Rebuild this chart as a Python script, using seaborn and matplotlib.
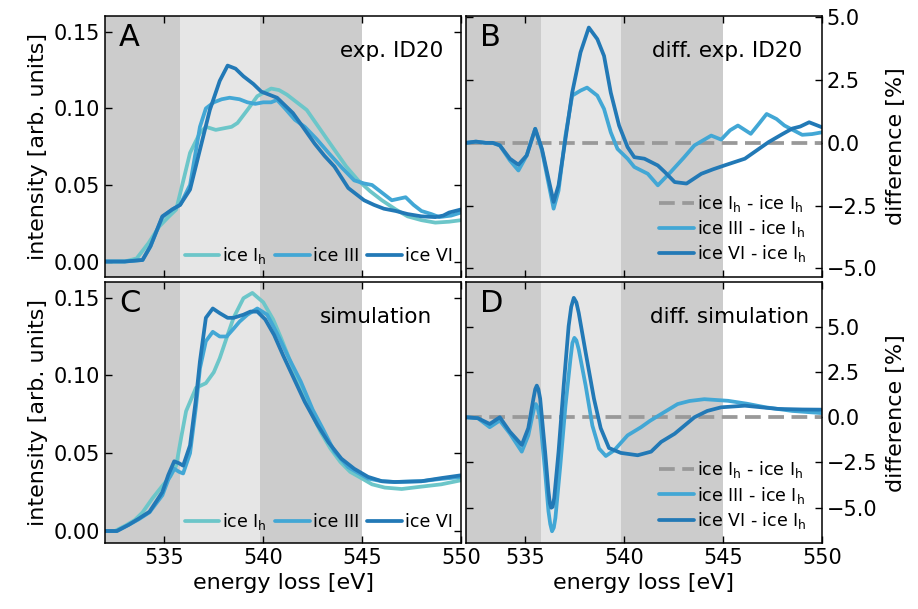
import numpy as np
import pandas as pd
import matplotlib
matplotlib.use("Agg")
import matplotlib.pyplot as plt
import seaborn as sns

sns.set_style("ticks")
plt.rcParams['font.family'] = ['DejaVu Sans']
for k in ['text.color', 'axes.labelcolor', 'xtick.color', 'ytick.color', 'axes.edgecolor']:
    plt.rcParams[k] = 'black'

# ---------------- data ----------------
# Panel A: experiment ID20
expA_Ih_x = [532.0, 533.0, 533.6, 534.2, 534.75, 535.2, 535.6, 536.0, 536.3, 536.8, 537.1, 537.6, 538.0, 538.4, 538.7, 539.2, 539.7, 540.4, 540.8, 541.2, 541.7, 542.2, 542.9, 543.6, 544.2, 544.8, 545.4, 546.0, 546.7, 547.3, 548.0, 548.7, 549.4, 550.0]
expA_Ih_y = [0.0, 0.0, 0.002, 0.012, 0.023, 0.029, 0.034, 0.055, 0.071, 0.084, 0.088, 0.086, 0.087, 0.088, 0.0905, 0.099, 0.108, 0.113, 0.112, 0.109, 0.104, 0.099, 0.086, 0.073, 0.062, 0.053, 0.046, 0.040, 0.034, 0.0295, 0.027, 0.0254, 0.026, 0.027]
expA_III_x = [532.0, 533.0, 533.9, 534.3, 534.9, 535.4, 535.8, 536.3, 536.8, 537.1, 537.5, 537.9, 538.3, 538.8, 539.2, 539.6, 540.0, 540.4, 540.7, 541.1, 541.6, 542.1, 542.7, 543.3, 544.0, 544.6, 545.1, 545.5, 546.0, 546.5, 547.2, 547.6, 548.0, 548.5, 548.9, 549.5, 550.0]
expA_III_y = [0.0, 0.0, 0.001, 0.010, 0.029, 0.034, 0.037, 0.050, 0.088, 0.100, 0.104, 0.106, 0.107, 0.106, 0.104, 0.103, 0.104, 0.104, 0.1056, 0.100, 0.0926, 0.088, 0.080, 0.071, 0.061, 0.053, 0.051, 0.050, 0.045, 0.040, 0.042, 0.037, 0.033, 0.031, 0.029, 0.030, 0.032]
expA_VI_x = [532.0, 533.0, 533.9, 534.3, 534.9, 535.4, 535.8, 536.3, 536.8, 537.3, 537.8, 538.2, 538.6, 539.0, 539.5, 539.9, 540.7, 541.5, 542.0, 542.6, 543.1, 543.6, 544.3, 545.1, 545.6, 546.1, 546.7, 547.3, 548.0, 548.7, 549.1, 549.4, 550.0]
expA_VI_y = [0.0, 0.0, 0.001, 0.010, 0.0295, 0.034, 0.037, 0.047, 0.073, 0.099, 0.118, 0.128, 0.126, 0.121, 0.116, 0.111, 0.107, 0.097, 0.088, 0.077, 0.069, 0.062, 0.048, 0.040, 0.037, 0.0345, 0.033, 0.031, 0.0295, 0.029, 0.030, 0.032, 0.034]

# Panel B: difference experiment [%]
diffB_III_x = [532.0, 532.5, 533.0, 533.35, 533.71, 534.22, 534.65, 535.07, 535.5, 535.84, 536.17, 536.43, 536.68, 537.03, 537.37, 537.79, 538.12, 538.64, 538.98, 539.32, 539.66, 540.17, 540.51, 541.19, 541.7, 542.35, 543.0, 543.55, 544.4, 544.9, 545.35, 545.75, 546.4, 546.8, 547.2, 547.7, 548.1, 549.0, 549.5, 550.0]
diffB_III_y = [0.0, 0.05, 0.0, 0.0, -0.1, -0.7, -1.1, -0.5, 0.56, -0.3, -1.6, -2.62, -1.9, 0.29, 1.88, 2.08, 2.2, 1.88, 1.35, 0.42, -0.24, -0.63, -0.96, -1.23, -1.69, -1.16, -0.6, -0.1, 0.29, 0.13, 0.5, 0.69, 0.36, 0.75, 1.15, 0.95, 0.69, 0.32, 0.35, 0.42]
diffB_VI_x = [532.0, 532.5, 533.0, 533.35, 533.71, 534.22, 534.65, 535.07, 535.5, 535.84, 536.17, 536.43, 536.68, 537.03, 537.37, 537.79, 538.21, 538.64, 538.98, 539.32, 539.74, 540.17, 540.51, 541.02, 541.7, 542.05, 542.55, 543.15, 543.9, 544.5, 545.1, 546.1, 546.7, 547.3, 548.0, 548.5, 548.9, 549.35, 550.0]
diffB_VI_y = [0.0, 0.05, 0.0, 0.0, -0.1, -0.63, -0.87, -0.5, 0.56, -0.24, -1.43, -2.35, -1.69, 0.16, 2.0, 3.6, 4.59, 4.13, 3.46, 2.0, 0.69, -0.17, -0.57, -0.63, -0.9, -1.16, -1.56, -1.62, -1.23, -1.05, -0.89, -0.63, -0.3, 0.03, 0.35, 0.57, 0.65, 0.82, 0.62]

# Panel C: simulation
simC_Ih_x = [532.0, 532.5, 533.05, 533.5, 533.9, 534.4, 534.9, 535.3, 535.6, 535.85, 536.1, 536.6, 537.1, 537.5, 537.8, 538.2, 538.5, 539.0, 539.45, 540.0, 540.5, 540.9, 541.4, 541.9, 542.4, 542.9, 543.4, 543.9, 544.4, 545.0, 545.5, 546.15, 547.0, 547.85, 549.0, 550.0]
simC_Ih_y = [0.0, 0.0, 0.0036, 0.007, 0.012, 0.021, 0.029, 0.035, 0.042, 0.060, 0.077, 0.092, 0.095, 0.102, 0.111, 0.126, 0.137, 0.1496, 0.153, 0.147, 0.136, 0.124, 0.108, 0.0916, 0.077, 0.0637, 0.053, 0.0444, 0.038, 0.0337, 0.030, 0.0279, 0.027, 0.0283, 0.030, 0.0326]
simC_III_x = [532.0, 532.6, 533.2, 533.7, 534.25, 534.9, 535.2, 535.5, 535.75, 535.95, 536.3, 536.6, 536.8, 537.1, 537.45, 537.8, 538.15, 538.5, 538.8, 539.2, 539.7, 540.2, 540.7, 541.3, 541.9, 542.5, 543.0, 543.6, 544.3, 545.3, 546.0, 546.65, 548.0, 549.0, 550.0]
simC_III_y = [0.0, 0.0, 0.004, 0.0075, 0.012, 0.023, 0.033, 0.040, 0.038, 0.037, 0.050, 0.080, 0.1045, 0.122, 0.128, 0.125, 0.125, 0.130, 0.1345, 0.139, 0.143, 0.139, 0.127, 0.111, 0.096, 0.078, 0.066, 0.051, 0.041, 0.0337, 0.032, 0.0315, 0.032, 0.0335, 0.0347]
simC_VI_x = [532.0, 532.6, 533.2, 533.7, 534.25, 534.9, 535.2, 535.5, 535.75, 535.95, 536.3, 536.6, 536.8, 537.1, 537.45, 537.8, 538.2, 538.5, 539.0, 539.35, 539.7, 540.1, 540.55, 541.0, 541.55, 542.1, 542.75, 543.3, 543.95, 544.6, 545.3, 546.0, 546.65, 548.0, 549.0, 550.0]
simC_VI_y = [0.0, 0.0, 0.004, 0.0079, 0.0124, 0.025, 0.036, 0.0448, 0.0435, 0.042, 0.055, 0.085, 0.109, 0.137, 0.143, 0.140, 0.137, 0.137, 0.139, 0.141, 0.141, 0.136, 0.126, 0.113, 0.098, 0.083, 0.068, 0.057, 0.0465, 0.040, 0.0348, 0.032, 0.0315, 0.032, 0.034, 0.0358]

# Panel D: difference simulation [%]
diffD_III_x = [532.0, 532.6, 533.2, 533.71, 534.22, 534.82, 535.15, 535.45, 535.53, 535.62, 535.75, 536.0, 536.17, 536.26, 536.35, 536.44, 536.52, 536.77, 537.03, 537.28, 537.38, 537.48, 537.58, 537.7, 538.05, 538.39, 538.73, 539.07, 539.49, 540.17, 540.85, 541.3, 541.87, 542.7, 543.3, 544.05, 545.25, 546.2, 547.15, 548.5, 550.0]
diffD_III_y = [0.0, -0.05, -0.55, -0.18, -0.9, -1.9, -1.0, 0.55, 0.73, 0.55, -0.1, -3.0, -5.2, -5.9, -6.3, -6.1, -5.57, -2.65, 0.64, 3.2, 4.1, 4.39, 4.25, 3.75, 1.75, -0.46, -1.73, -2.14, -1.83, -1.0, -0.55, -0.2, 0.18, 0.73, 0.9, 1.0, 0.91, 0.75, 0.55, 0.35, 0.23]
diffD_VI_x = [532.0, 532.6, 533.2, 533.71, 534.22, 534.82, 535.15, 535.41, 535.5, 535.58, 535.66, 535.75, 536.0, 536.17, 536.24, 536.31, 536.38, 536.46, 536.68, 536.94, 537.19, 537.32, 537.45, 537.58, 537.7, 538.05, 538.47, 538.81, 539.23, 539.83, 540.68, 541.36, 541.87, 542.55, 543.55, 544.2, 544.9, 546.1, 547.8, 549.0, 550.0]
diffD_VI_y = [0.0, -0.05, -0.37, 0.0, -0.8, -1.53, -0.6, 1.03, 1.55, 1.75, 1.55, 1.03, -1.9, -4.1, -4.75, -5.0, -4.95, -4.47, -1.9, 1.75, 5.04, 6.1, 6.6, 6.35, 5.77, 3.58, 1.03, -0.6, -1.7, -1.97, -2.1, -1.9, -1.36, -0.91, 0.0, 0.35, 0.55, 0.64, 0.46, 0.43, 0.42]

zero_x = [532.0, 550.0]
zero_y = [0.0, 0.0]

# energy regions (shading)
region_edges = [532.0, 535.8, 539.85, 545.0]
region_colors = ['#cccccc', '#e6e6e6', '#cccccc']

lab_Ih = 'ice I$_\\mathrm{h}$'
lab_III = 'ice III'
lab_VI = 'ice VI'
col_Ih = '#6cc6c9'
col_III = '#42a7d5'
col_VI = '#2279b6'
col_zero = '#999999'
LW = 2.7
FS_TICK = 15
FS_LAB = 16
FS_LEG = 12.5

def df(x, y):
    return pd.DataFrame({'E': x, 'v': y})

fig, axes = plt.subplots(2, 2, figsize=(9.18, 6.09), dpi=100, sharex=True)
fig.subplots_adjust(left=105/918, right=822/918, top=1-16/609, bottom=1-543/609,
                    wspace=0.014, hspace=0.023)

for ax in axes.flat:
    for i in range(3):
        ax.axvspan(region_edges[i], region_edges[i+1], color=region_colors[i], lw=0, zorder=0)
    ax.set_xlim(532, 550)
    ax.tick_params(direction='in', top=True, bottom=True, left=True, right=True,
                   labelsize=FS_TICK, length=5, width=1)
    for s in ax.spines.values():
        s.set_linewidth(1.1)

def intensity_panel(ax, Ih, III, VI):
    sns.lineplot(data=df(*Ih), x='E', y='v', ax=ax, color=col_Ih, lw=LW, label=lab_Ih, sort=False, estimator=None)
    sns.lineplot(data=df(*III), x='E', y='v', ax=ax, color=col_III, lw=LW, label=lab_III, sort=False, estimator=None)
    sns.lineplot(data=df(*VI), x='E', y='v', ax=ax, color=col_VI, lw=LW, label=lab_VI, sort=False, estimator=None)
    ax.set_yticks([0.0, 0.05, 0.10, 0.15])
    ax.set_yticklabels(['0.00', '0.05', '0.10', '0.15'])
    ax.set_ylabel('intensity [arb. units]', fontsize=FS_LAB, labelpad=4)
    ax.legend(loc='lower center', bbox_to_anchor=(0.6, -0.005), ncol=3, frameon=False,
              fontsize=FS_LEG, handlelength=2.0, columnspacing=0.5, handletextpad=0.15,
              borderaxespad=0.3)

def diff_panel(ax, III, VI):
    sns.lineplot(data=df(zero_x, zero_y), x='E', y='v', ax=ax, color=col_zero, lw=LW,
                 dashes=False, label=lab_Ih + ' - ' + lab_Ih, estimator=None)
    ax.lines[-1].set_dashes((4.2, 2.0))
    sns.lineplot(data=df(*III), x='E', y='v', ax=ax, color=col_III, lw=LW, label=lab_III + ' - ' + lab_Ih, sort=False, estimator=None)
    sns.lineplot(data=df(*VI), x='E', y='v', ax=ax, color=col_VI, lw=LW, label=lab_VI + ' - ' + lab_Ih, sort=False, estimator=None)
    ax.set_yticks([-5, -2.5, 0, 2.5, 5])
    ax.set_yticklabels(['\u22125.0', '\u22122.5', '0.0', '2.5', '5.0'])
    ax.tick_params(labelleft=False, labelright=True)
    ax.yaxis.set_label_position('right')
    ax.set_ylabel('difference [%]', fontsize=FS_LAB, labelpad=6)
    ax.legend(loc='lower right', bbox_to_anchor=(0.99, 0.0), frameon=False, fontsize=FS_LEG,
              handlelength=2.0, handletextpad=0.15, labelspacing=0.25, borderaxespad=0.3)

axA, axB = axes[0]
axC, axD = axes[1]

intensity_panel(axA, (expA_Ih_x, expA_Ih_y), (expA_III_x, expA_III_y), (expA_VI_x, expA_VI_y))
axA.set_ylim(-0.0098, 0.1604)
intensity_panel(axC, (simC_Ih_x, simC_Ih_y), (simC_III_x, simC_III_y), (simC_VI_x, simC_VI_y))
axC.set_ylim(-0.0077, 0.1597)

diff_panel(axB, (diffB_III_x, diffB_III_y), (diffB_VI_x, diffB_VI_y))
axB.set_ylim(-5.32, 5.05)
diff_panel(axD, (diffD_III_x, diffD_III_y), (diffD_VI_x, diffD_VI_y))
axD.set_ylim(-6.95, 7.45)

for ax in axes[0]:
    ax.set_xlabel('')
for ax in axes[1]:
    ax.set_xlabel('energy loss [eV]', fontsize=FS_LAB, labelpad=4)
    ax.set_xticks([535, 540, 545, 550])

for ax, letter, title, tx in [(axA, 'A', 'exp. ID20', 0.95), (axB, 'B', 'diff. exp. ID20', 0.945),
                              (axC, 'C', 'simulation', 0.92), (axD, 'D', 'diff. simulation', 0.965)]:
    ax.text(0.04, 0.975, letter, transform=ax.transAxes, fontsize=22, va='top', ha='left')
    ax.text(tx, 0.905, title, transform=ax.transAxes, fontsize=15.5, va='top', ha='right')

fig.savefig('out.png', dpi=100)
